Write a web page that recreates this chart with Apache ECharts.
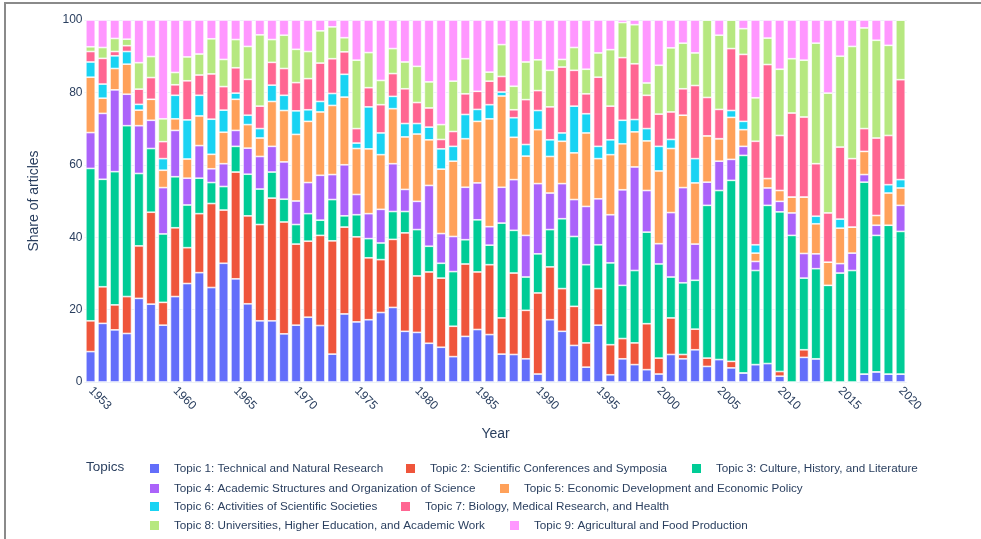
<!DOCTYPE html>
<html>
<head>
<meta charset="utf-8">
<script src="https://cdn.jsdelivr.net/npm/echarts@6/dist/echarts.min.js"></script>
<style>
html,body{margin:0;padding:0;background:#fff;}
#chart{width:981px;height:539px;position:relative;}
#frame{position:absolute;left:4px;top:2px;width:990px;height:560px;border:2px solid #8a8a8a;box-sizing:border-box;pointer-events:none;}
</style>
</head>
<body>
<div id="chart"></div>
<div id="frame"></div>
<script>
const years = [];
for (let y = 1953; y <= 2020; y++) years.push(String(y));

const topicNames = [
  "Topic 1: Technical and Natural Research",
  "Topic 2: Scientific Conferences and Symposia",
  "Topic 3: Culture, History, and Literature",
  "Topic 4: Academic Structures and Organization of Science",
  "Topic 5: Economic Development and Economic Policy",
  "Topic 6: Activities of Scientific Societies",
  "Topic 7: Biology, Medical Research, and Health",
  "Topic 8: Universities, Higher Education, and Academic Work",
  "Topic 9: Agricultural and Food Production"
];

const colors = ["#636efa","#EF553B","#00cc96","#ab63fa","#FFA15A","#19d3f3","#FF6692","#B6E880","#FF97FF"];

// values per topic, 1953..2020
const topic1 = [8.4,16.2,14.4,13.4,23.1,21.5,15.7,23.6,27.2,30.2,26.1,32.8,28.5,21.6,16.9,16.9,13.3,15.7,17.9,15.6,7.7,18.8,16.6,17.2,19.2,20.6,14.0,13.7,10.7,9.6,7.0,12.6,14.5,13.1,7.7,7.6,6.4,2.2,17.2,14.0,10.1,4.1,15.7,2.0,6.4,4.8,3.4,2.2,7.6,6.4,8.9,4.3,6.2,3.9,2.5,4.8,5.1,1.6,0,6.8,6.4,0,0,0,2.2,2.8,2.2,2.2];
const topic2 = [8.5,10.1,6.9,10.2,14.5,25.4,6.3,19.0,9.9,16.3,23.2,14.7,29.5,24.3,26.6,33.9,30.9,22.4,21.0,24.9,31.3,24.0,23.5,17.1,14.6,18.8,27.2,15.6,19.7,19.1,8.4,20.0,15.9,19.3,10.0,22.5,13.4,22.4,14.6,11.8,10.8,6.7,10.1,8.3,5.6,6.0,12.7,4.4,10.1,1.2,5.7,2.3,0,1.8,0,0,0,1.3,0,2.1,0,0,0,0,0,0,0,0];
const topic3 = [42.1,29.7,36.8,47.2,20.0,17.6,18.9,14.1,11.8,9.8,5.8,6.5,7.1,11.5,9.8,7.2,6.3,5.4,7.6,4.2,11.4,3.1,6.1,5.3,4.6,7.7,5.9,12.8,7.1,4.1,15.1,6.7,14.4,5.4,26.2,11.8,9.2,10.8,10.3,19.3,19.3,21.6,12.1,22.6,14.7,20.0,25.3,26.0,11.3,19.8,13.5,42.2,46.7,50.0,60.1,26.0,43.7,44.1,40.5,19.8,24.9,26.7,30.1,30.8,53.0,37.7,41.1,39.4];
const topic4 = [9.9,18.2,22.6,8.7,13.2,7.8,12.8,12.8,7.4,9.0,3.8,6.3,4.4,7.2,9.0,7.1,10.3,6.5,8.6,12.4,6.9,14.1,5.6,6.9,9.3,13.2,6.1,7.8,16.8,8.2,9.7,14.5,10.2,5.1,9.9,14.0,11.5,19.4,10.1,9.7,10.2,16.1,12.7,13.3,26.4,28.6,11.5,5.6,17.8,26.3,10.0,6.4,8.1,5.8,2.5,2.5,4.8,2.9,6.2,6.8,4.1,0,2.6,4.8,2.1,2.8,0,7.2];
const topic5 = [15.3,4.2,5.9,8.3,4.3,5.8,4.8,3.2,5.3,8.2,4.0,8.7,8.6,6.5,5.1,12.4,14.2,18.4,16.9,17.5,19.1,18.7,12.7,17.9,15.1,15.2,14.5,18.6,12.6,17.8,20.8,13.4,17.0,29.8,25.2,11.7,21.9,14.9,10.1,11.7,12.9,20.3,11.1,16.6,12.7,9.7,13.7,20.1,17.7,20.0,16.9,12.8,6.2,11.6,4.6,2.3,2.6,3.0,4.4,15.6,8.3,6.4,9.8,7.2,6.4,2.7,8.9,4.8];
const topic6 = [4.2,3.9,3.5,3.5,1.6,0,3.2,6.5,10.8,5.7,9.7,6.1,1.7,2.6,2.6,4.5,4.2,6.5,3.2,2.9,3.3,6.3,1.5,11.6,6.0,3.4,3.7,2.9,3.5,5.6,4.1,6.7,3.3,3.9,1.1,5.4,3.2,5.3,4.6,2.3,12.9,5.3,3.4,4.1,6.5,3.4,3.4,6.8,2.5,0,6.7,0,0,1.9,2.3,2.3,0,0,0,0,2.1,0,2.5,0,0,0,2.3,2.3];
const topic7 = [2.9,7.1,1.2,1.6,4.2,6.0,4.7,2.9,10.8,5.6,12.5,6.5,7.0,9.9,6.2,6.3,7.4,7.8,8.6,10.6,9.6,6.2,4.0,5.3,7.8,6.3,9.6,5.8,5.3,2.6,4.1,5.7,5.0,6.5,4.3,2.2,12.4,5.5,9.1,18.2,9.9,5.5,19.1,9.3,17.3,15.4,9.2,8.9,7.6,7.3,20.2,10.6,8.1,17.1,18.5,28.6,31.5,15.2,23.2,22.1,14.5,13.6,19.9,18.9,6.3,21.4,13.6,27.6];
const topic8 = [1.3,3.0,3.6,1.8,7.3,5.8,6.3,3.4,6.6,5.8,9.7,7.5,7.8,9.1,19.7,6.3,9.2,9.2,7.5,8.9,8.8,3.9,18.9,9.7,6.7,6.9,7.4,10.0,7.2,4.1,13.9,9.7,0,2.5,8.8,6.5,10.4,8.5,10.1,2.1,6.3,6.8,6.7,15.6,9.7,10.8,3.4,13.5,17.7,12.6,9.0,21.4,20.5,7.9,7.1,12.0,7.3,18.3,15.0,15.7,33.3,33.1,25.1,31.0,27.8,27.0,24.9,16.5];
const topic9 = [7.4,7.6,5.1,5.3,11.8,10.1,27.3,14.5,10.2,9.4,5.2,10.9,5.4,7.3,4.1,5.4,4.2,8.1,8.7,3.0,1.9,4.9,11.1,9.0,16.7,7.9,11.6,12.8,17.1,28.9,16.9,10.7,19.7,14.4,6.8,18.3,11.6,11.0,13.9,10.9,7.6,13.6,9.1,8.2,0.7,1.3,17.4,12.5,7.7,6.4,9.1,0,4.2,0,2.4,21.5,5.0,13.6,10.7,11.1,6.4,20.2,10.0,7.3,2.2,5.6,7.0,0];

const topicData = [topic1,topic2,topic3,topic4,topic5,topic6,topic7,topic8,topic9];

const yTicks = [0,20,40,60,80,100];
const shownYears = ["1953","1960","1965","1970","1975","1980","1985","1990","1995","2000","2005","2010","2015","2020"];

const FONT = "'Liberation Sans', Arial, sans-serif";
const TXT = "#2a3f5f";

const series = topicNames.map((name, i) => ({
  name: name,
  type: 'bar',
  stack: 'total',
  data: topicData[i],
  barCategoryGap: '22%',
  itemStyle: { color: colors[i], borderColor: '#ffffff', borderWidth: 0.7 },
  emphasis: { disabled: true },
  animation: false
}));

// legend item positions (x of marker, y center of row)
const legendPos = [
  [148, 468], [404, 468], [690, 468],
  [148, 488], [498, 488],
  [148, 506], [399, 506],
  [148, 525], [508, 525]
];

const legends = topicNames.map((name, i) => ({
  show: true,
  selectedMode: false,
  left: legendPos[i][0],
  top: legendPos[i][1] - 6,
  orient: 'horizontal',
  data: [{ name: name, icon: 'rect' }],
  itemWidth: 11,
  itemHeight: 11,
  padding: 0,
  textStyle: { fontFamily: FONT, fontSize: 11.7, color: TXT, padding: [0, 0, 0, 9] }
}));

const chart = echarts.init(document.getElementById('chart'), null, { renderer: 'canvas' });
chart.setOption({
  animation: false,
  backgroundColor: '#ffffff',
  textStyle: { fontFamily: FONT },
  grid: { left: 84.5, right: 74.4, top: 20, bottom: 157, containLabel: false },
  legend: legends,
  graphic: [{
    type: 'text', left: 86, top: 460,
    style: { text: 'Topics', fontFamily: FONT, fontSize: 13.5, fill: TXT }
  }],
  xAxis: {
    type: 'category',
    data: years,
    name: 'Year',
    nameLocation: 'middle',
    nameGap: 45,
    nameTextStyle: { fontFamily: FONT, fontSize: 14, color: TXT },
    axisLine: { show: false },
    axisTick: { show: false },
    axisLabel: {
      rotate: -45,
      margin: 7,
      fontFamily: FONT, fontSize: 12, color: TXT,
      interval: function (idx, val) { return shownYears.indexOf(val) >= 0; }
    }
  },
  yAxis: {
    type: 'value',
    min: yTicks[0], max: yTicks[yTicks.length - 1], interval: 20,
    name: 'Share of articles',
    nameLocation: 'middle',
    nameGap: 43,
    nameRotate: 90,
    nameTextStyle: { fontFamily: FONT, fontSize: 14, color: TXT },
    axisLine: { show: false },
    axisTick: { show: false },
    axisLabel: { margin: 2, fontFamily: FONT, fontSize: 12, color: TXT },
    splitLine: { show: true, lineStyle: { color: '#EBF0F8', width: 1 } }
  },
  series: series
});
</script>
</body>
</html>
